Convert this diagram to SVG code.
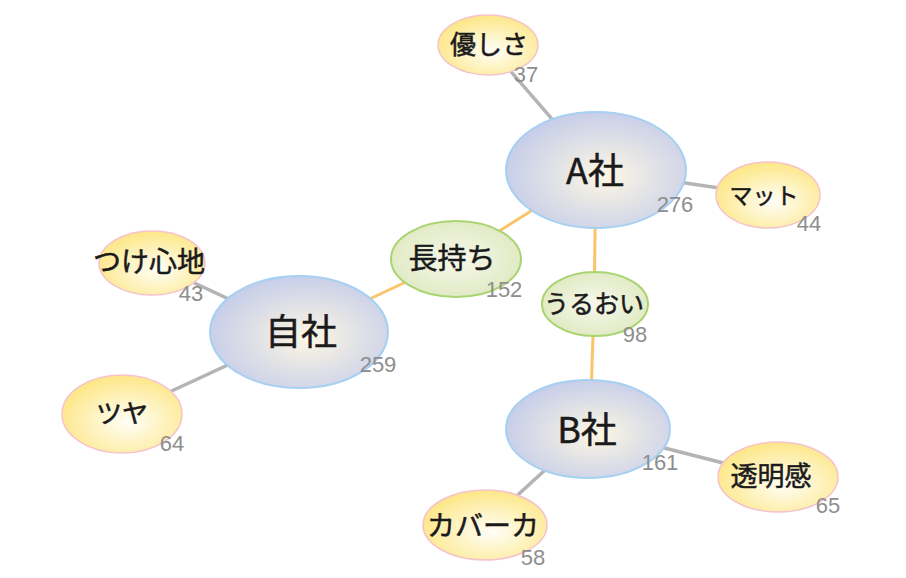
<svg xmlns="http://www.w3.org/2000/svg" width="906" height="578" viewBox="0 0 906 578">
<defs>
<radialGradient id="gBlue" cx="0.55" cy="0.55" r="0.6">
<stop offset="0" stop-color="#fdf7e4"/>
<stop offset="1" stop-color="#c3cbe9"/>
</radialGradient>
<radialGradient id="gYel" cx="0.55" cy="0.6" r="0.6">
<stop offset="0" stop-color="#fffef8"/>
<stop offset="1" stop-color="#fde786"/>
</radialGradient>
<radialGradient id="gGrn" cx="0.5" cy="0.5" r="0.6">
<stop offset="0" stop-color="#f7f8ec"/>
<stop offset="1" stop-color="#dde8bd"/>
</radialGradient>
</defs>
<style>
.big{fill:url(#gBlue);stroke:#a6d0f2;stroke-width:2}
.yel{fill:url(#gYel);stroke:#f5c3cc;stroke-width:1.5}
.grn{fill:url(#gGrn);stroke:#a9d472;stroke-width:2}
.gray{stroke:#b4b4b4;stroke-width:3.5;fill:none}
.org{stroke:#fbc46a;stroke-width:3;fill:none}
text{font-family:"Noto Sans CJK JP","Noto Sans",sans-serif;fill:#1a1a1a;text-anchor:middle}
.lb,.ls{stroke:#1a1a1a;stroke-width:0.5}
.lb{font-size:36px}
.ls{font-size:27px}
.num{font-size:22px;fill:#8e8e8e;font-family:"Liberation Sans","Noto Sans",sans-serif}
</style>
<rect width="906" height="578" fill="#ffffff"/>
<g id="connectors">
<line class="gray" x1="488" y1="45" x2="596" y2="170"/>
<line class="gray" x1="596" y1="170" x2="768" y2="195"/>
<line class="org" x1="455" y1="259" x2="596" y2="170"/>
<line class="org" x1="299" y1="332" x2="455" y2="259"/>
<line class="org" x1="596" y1="170" x2="594" y2="304"/>
<line class="org" x1="594" y1="304" x2="590" y2="429"/>
<line class="gray" x1="152" y1="263" x2="299" y2="332"/>
<line class="gray" x1="122" y1="414" x2="299" y2="332"/>
<line class="gray" x1="590" y1="429" x2="778" y2="477"/>
<line class="gray" x1="590" y1="429" x2="485" y2="525"/>
</g>
<g id="node-A"><ellipse class="big" cx="596" cy="170" rx="90" ry="58"/><text class="lb" x="595" y="184">A社</text><text class="num" x="675" y="212">276</text></g>
<g id="node-jisha"><ellipse class="big" cx="299" cy="332" rx="89" ry="56"/><text class="lb" x="301" y="345">自社</text><text class="num" x="378" y="372">259</text></g>
<g id="node-B"><ellipse class="big" cx="588" cy="429" rx="82" ry="49"/><text class="lb" x="587" y="443">B社</text><text class="num" x="660" y="470">161</text></g>
<g id="node-nagamochi"><ellipse class="grn" cx="456" cy="259" rx="65" ry="38"/><text class="ls" x="452" y="269" style="font-size:29px">長持ち</text><text class="num" x="504" y="297">152</text></g>
<g id="node-uruoi"><ellipse class="grn" cx="595" cy="304" rx="53" ry="32"/><text class="ls" x="594" y="313" style="font-size:25px">うるおい</text><text class="num" x="635" y="342">98</text></g>
<g id="node-yasashisa"><ellipse class="yel" cx="488" cy="45" rx="50" ry="30"/><text class="ls" x="489" y="54" style="font-size:26px">優しさ</text><text class="num" x="526" y="82">37</text></g>
<g id="node-matto"><ellipse class="yel" cx="768" cy="195" rx="52" ry="33"/><text class="ls" x="764" y="204" style="font-size:23px">マット</text><text class="num" x="809" y="231">44</text></g>
<g id="node-tsukegokochi"><ellipse class="yel" cx="152" cy="263" rx="53" ry="32"/><text class="ls" x="149" y="272" style="font-size:28px">つけ心地</text><text class="num" x="191" y="301">43</text></g>
<g id="node-tsuya"><ellipse class="yel" cx="122" cy="414" rx="60" ry="39"/><text class="ls" x="122" y="423" style="font-size:26px">ツヤ</text><text class="num" x="172" y="451">64</text></g>
<g id="node-toumeikan"><ellipse class="yel" cx="778" cy="477" rx="60" ry="35"/><text class="ls" x="771" y="486">透明感</text><text class="num" x="828" y="513">65</text></g>
<g id="node-kabaa"><ellipse class="yel" cx="485" cy="525" rx="62" ry="35"/><text class="ls" x="483" y="536" style="font-size:28px">カバーカ</text><text class="num" x="533" y="565">58</text></g>
</svg>
